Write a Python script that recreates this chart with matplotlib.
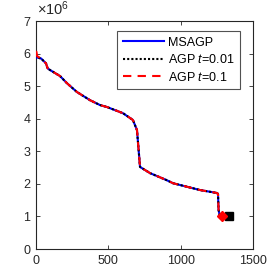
import matplotlib
matplotlib.use("Agg")
import matplotlib.pyplot as plt

plt.rcParams['font.family'] = ['Liberation Sans', 'DejaVu Sans']
plt.rcParams['mathtext.fontset'] = 'custom'
plt.rcParams['mathtext.it'] = 'Liberation Sans:italic'
plt.rcParams['mathtext.rm'] = 'Liberation Sans'

# values in units of 1e6
msagp_x = [0, 5, 35, 69, 80, 95, 166, 214, 283, 373, 442, 490, 601, 670, 698, 719, 788, 900, 947, 1000, 1134, 1251, 1258, 1262, 1270, 1284]
msagp_y = [5.95, 5.88, 5.85, 5.7, 5.55, 5.5, 5.31, 5.09, 4.82, 4.57, 4.42, 4.36, 4.17, 3.96, 3.65, 2.52, 2.33, 2.12, 2.02, 1.96, 1.81, 1.72, 1.69, 1.2, 1.02, 1.0]

agp001_x = msagp_x + [1334]
agp001_y = msagp_y + [1.0]

agp01_x = [0, 3, 8] + msagp_x[2:]
agp01_y = [6.08, 6.05, 5.92] + msagp_y[2:]

x_ticks = [0, 500, 1000, 1500]
y_ticks = [0, 1, 2, 3, 4, 5, 6, 7]

fig = plt.figure(figsize=(2.8, 2.8), dpi=100)
ax = fig.add_axes([0.1286, 0.1107, 0.775, 0.8143])

ax.plot(msagp_x, msagp_y, color='#0000ff', lw=1.5, label='MSAGP', zorder=3)
ax.plot(agp001_x, agp001_y, color='black', lw=1.5, ls=(0, (1, 1)), label='AGP $t$=0.01', zorder=4)
ax.plot(agp01_x, agp01_y, color='#ff0000', lw=1.5, ls=(0, (4, 3)), label='AGP $t$=0.1', zorder=5)
ax.plot([agp001_x[-1]], [agp001_y[-1]], marker='s', color='black', ms=5.5, ls='none', zorder=6)
ax.plot([agp01_x[-1]], [agp01_y[-1]], marker='D', color='#ff0000', ms=5.5, ls='none', zorder=7)

ax.set_xlim(0, 1500)
ax.set_ylim(0, 7)
ax.set_xticks(x_ticks)
ax.set_yticks(y_ticks)
ax.tick_params(direction='in', top=True, right=True, length=3, width=0.6,
               labelsize=9, colors='#262626', pad=4)
for s in ax.spines.values():
    s.set_linewidth(0.8)
    s.set_color('#262626')

ax.text(0.005, 1.015, r'$\times$10$^{6}$', transform=ax.transAxes, fontsize=10.5,
        color='#262626', ha='left', va='bottom')

leg = ax.legend(loc='upper right', bbox_to_anchor=(0.940, 0.956), fontsize=9,
                frameon=True, fancybox=False, edgecolor='#262626', handlelength=3.3,
                handletextpad=0.3, borderpad=0.45, labelspacing=0.36, borderaxespad=0)
leg.get_frame().set_linewidth(0.8)

fig.savefig('out.png', dpi=100)
